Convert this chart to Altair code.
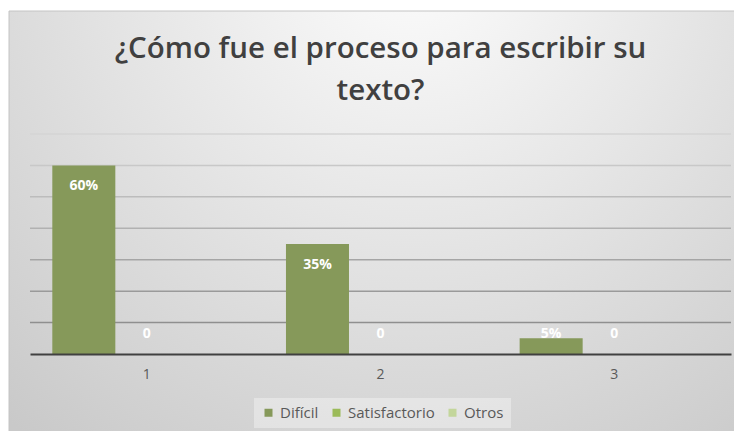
import altair as alt
import pandas as pd

# ---- data ----
categories = ["1", "2", "3"]
series = ["Difícil", "Satisfactorio", "Otros"]
dificil = [0.60, 0.35, 0.05]
satisfactorio = [0, 0, 0]
otros = [None, None, None]
grid_values = [0.1, 0.2, 0.3, 0.4, 0.5, 0.6, 0.7]
colors = ["#86995a", "#9bbb59", "#c3d69b"]

rows = []
for i, c in enumerate(categories):
    for s, vals in zip(series, [dificil, satisfactorio, otros]):
        if vals[i] is not None:
            rows.append({"cat": c, "serie": s, "v": vals[i]})
df = pd.DataFrame(rows)
gdf = pd.DataFrame({"g": grid_values})

W, H = 701, 220
yscale = alt.Scale(domain=[0, 0.7], nice=False)
xscale = alt.Scale(domain=categories, paddingInner=0, paddingOuter=0)
xoff_scale = alt.Scale(domain=series, paddingInner=0, paddingOuter=0.354)

bg = alt.Chart(alt.Data(values=[{"a": 1}])).mark_rect(
    fill=alt.RadialGradient(
        gradient="radial",
        x1=0.55, y1=0.12, r1=0.0,
        x2=0.55, y2=0.12, r2=0.85,
        stops=[
            alt.GradientStop(color="#fdfdfd", offset=0),
            alt.GradientStop(color="#e6e6e6", offset=0.45),
            alt.GradientStop(color="#c9c9c9", offset=1),
        ],
    ),
    stroke="#c4c4c4",
    strokeWidth=1,
).encode(
    x=alt.value(-21), x2=alt.value(712), y=alt.value(-123), y2=alt.value(305)
)

grid = alt.Chart(gdf).mark_rule(strokeWidth=1.5).encode(
    y=alt.Y("g:Q", scale=yscale, axis=None),
    stroke=alt.Stroke(
        "g:Q",
        scale=alt.Scale(domain=[0.1, 0.7], range=["#8f8f8f", "#d4d4d4"]),
        legend=None,
    ),
)

base = alt.Chart(df).encode(
    x=alt.X(
        "cat:N",
        scale=xscale,
        title=None,
        axis=alt.Axis(
            labelAngle=0, ticks=False, tickSize=0, labelPadding=13,
            domainColor="#404040", domainWidth=2, grid=False,
            labelFont="Open Sans", labelFontSize=14, labelColor="#595959",
            zindex=1,
        ),
    ),
    xOffset=alt.XOffset("serie:N", scale=xoff_scale),
)

bars = base.mark_bar().encode(
    y=alt.Y("v:Q", scale=yscale, axis=None),
    color=alt.Color(
        "serie:N",
        scale=alt.Scale(domain=series, range=colors),
        legend=alt.Legend(
            title=None, orient="none", legendX=224, legendY=264,
            direction="horizontal", columns=3,
            fillColor="rgba(255,255,255,0.35)", padding=7,
            symbolType="square", symbolSize=64, symbolStrokeWidth=0,
            labelFont="Open Sans", labelFontSize=15, labelColor="#595959",
            labelOffset=4, columnPadding=10,
        ),
    ),
)

labels = base.mark_text(
    font="Open Sans", fontSize=14, fontWeight="bold", color="white",
    baseline="middle", dy=21,
).transform_calculate(
    lv="max(datum.v, 0.129)",
    label="datum.v == 0 ? '0' : format(datum.v, '.0%')",
).encode(
    y=alt.Y("lv:Q", scale=yscale, axis=None),
    text="label:N",
)

chart = alt.layer(bg, grid, bars, labels).properties(
    width=W,
    height=H,
    padding={"left": 22, "top": 126, "right": 3, "bottom": 77},
    autosize=alt.AutoSizeParams(type="none"),
    title=alt.TitleParams(
        text=["¿Cómo fue el proceso para escribir su", "texto?"],
        font="Open Sans", fontSize=29.5, fontWeight=600, color="#404040",
        anchor="middle", offset=-96, lineHeight=42,
    ),
).configure_view(stroke=None).configure(background="white")

chart.save("out.html", embed_options={"renderer": "svg", "actions": False})
